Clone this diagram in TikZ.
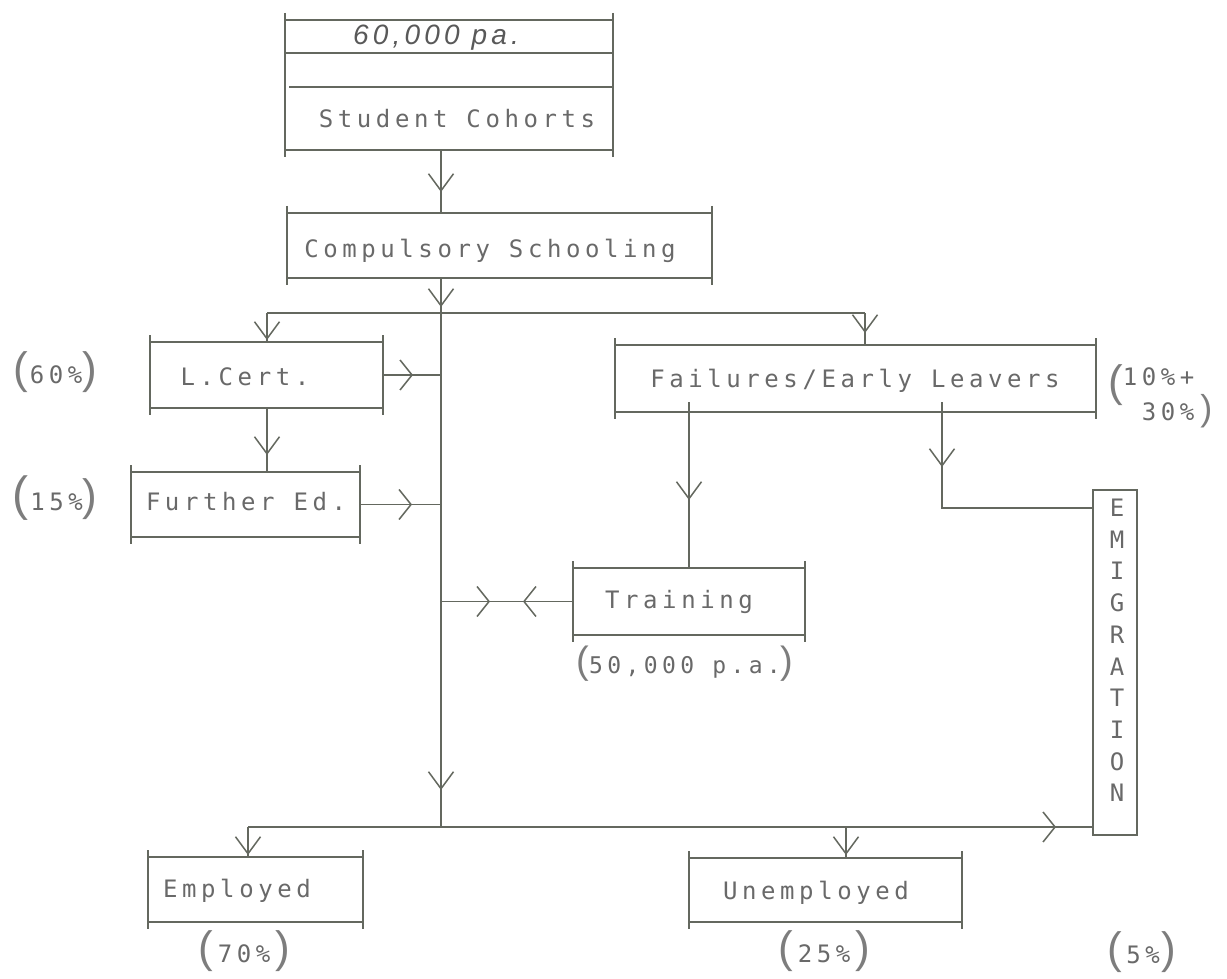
\documentclass[tikz,border=0pt]{standalone}
\usepackage{fontspec}
\usetikzlibrary{arrows.meta,decorations.markings}
\newfontfamily\tw{DejaVu Sans Mono}[LetterSpace=19]
\newfontfamily\pf{Liberation Sans}
\newfontfamily\hand{Liberation Sans}[LetterSpace=15]
\definecolor{ink}{RGB}{100,104,95}
\definecolor{txt}{RGB}{105,105,105}
\definecolor{paren}{RGB}{125,125,125}
\newcommand\PP[2][44]{{\pf\color{paren}\fontsize{#1}{#1}\selectfont #2}}
\newcommand\boxsides[1]{\draw[line width=1.6pt] ([yshift=7pt]#1.north west) -- ([yshift=-7pt]#1.south west) ([yshift=7pt]#1.north east) -- ([yshift=-7pt]#1.south east);}
\begin{document}
\begin{tikzpicture}[x=1pt,y=-1pt,color=ink,
  Vt/.tip={Straight Barb[length=17pt,width=25pt]},
  Ht/.tip={Straight Barb[length=12pt,width=30pt]},
  tbox/.style={draw=ink, line width=1.8pt, inner sep=0pt, outer sep=0pt, rectangle},
  lbl/.style={font=\tw\fontsize{24}{24}\selectfont, text=txt, inner sep=0pt, text height=17.5pt, text depth=0pt},
  pct/.style={font=\tw\fontsize{24}{32}\selectfont, text=txt, inner sep=0pt},
  conn/.style={draw=ink, line width=1.5pt},
  vm/.style={postaction={decorate, decoration={markings, mark=at position #1pt with {\arrow{Vt}}}}},
  hm/.style={postaction={decorate, decoration={markings, mark=at position #1pt with {\arrow{Ht}}}}},
  hmr/.style={postaction={decorate, decoration={markings, mark=at position #1pt with {\arrowreversed{Ht}}}}},
]
\fill[white] (0,0) rectangle (1227,979);
\useasboundingbox (0,0) rectangle (1227,979);

% boxes
\node[tbox, minimum width=328pt, minimum height=130pt] (cohort) at (449,85) {};
\draw[line width=1.8pt] (285,53) -- (613,53) (289,87) -- (613,87);
\boxsides{cohort}
\node[font=\hand\itshape\fontsize{28}{28}\selectfont, text=txt!85!black, inner sep=0pt, text height=20pt, text depth=0pt] (cohortn) at (436,35) {60,000 pa.};
\node[lbl] (cohortt) at (457,119) {Student Cohorts};

\node[tbox, minimum width=425pt, minimum height=65pt] (school) at (499.5,245.5) {};
\boxsides{school}
\node[lbl] (schoolt) at (490,249) {Compulsory Schooling};

\node[tbox, minimum width=233pt, minimum height=66pt] (lcert) at (266.5,375) {};
\boxsides{lcert}
\node[lbl] (lcertt) at (245,377) {L.Cert.};

\node[tbox, minimum width=229pt, minimum height=65pt] (further) at (245.5,504.5) {};
\boxsides{further}
\node[lbl] (furthert) at (246,502) {Further Ed.};

\node[tbox, minimum width=481pt, minimum height=67pt] (fail) at (855.5,378.5) {};
\boxsides{fail}
\node[lbl] (failt) at (855,379) {Failures/Early Leavers};

\node[tbox, minimum width=232pt, minimum height=67pt] (train) at (689,601.5) {};
\boxsides{train}
\node[lbl] (traint) at (679,600) {Training};

\node[tbox, minimum width=44pt, minimum height=345pt] (emig) at (1115,662.5) {};
\node[font=\tw\fontsize{24}{31.7}\selectfont, text=txt, inner sep=0pt, align=center, text depth=0pt, anchor=south] (emigt) at (1117,802) {E\\M\\I\\G\\R\\A\\T\\I\\O\\N};

\node[tbox, minimum width=215pt, minimum height=65pt] (emp) at (255.5,889.5) {};
\boxsides{emp}
\node[lbl] (empt) at (237,889) {Employed};

\node[tbox, minimum width=273pt, minimum height=64pt] (unemp) at (825.5,890) {};
\boxsides{unemp}
\node[lbl] (unempt) at (816,891) {Unemployed};

% junctions
\coordinate (spl) at (441,313);
\coordinate (splL) at (267,313);
\coordinate (splR) at (865,313);
\coordinate (bot) at (441,827);
\coordinate (botL) at (248,827);
\coordinate (botU) at (846,827);
\coordinate (emj) at (942,508);

% connectors
\draw[conn, vm=42] (cohort.south -| spl) -- (school.north -| spl);
\draw[conn, postaction={decorate, decoration={markings,
   mark=at position 29pt with {\arrow{Vt}},
   mark=at position 512pt with {\arrow{Vt}}}}] (school.south -| spl) -- (bot);
\draw[conn] (splL) -- (splR);
\draw[conn, vm=27] (splL) -- (lcert.north -| splL);
\draw[conn, vm=20] (splR) -- (fail.north -| splR);
\draw[conn, hm=30] (lcert.east) -- (lcert.east -| spl);
\draw[conn, vm=47] (lcert.south -| splL) -- (further.north -| splL);
\draw[conn, hm=52] (further.east) -- (further.east -| spl);
\draw[conn, vm=98] ([yshift=10pt]fail.south -| train.north) -- (train.north);
\draw[conn, vm=65] ([yshift=10pt]fail.south -| emj) -- (emj) -- (emig.west |- emj);
\draw[conn, hm=50, hmr=83] (train.west) -- (train.west -| spl);
\draw[conn, hm=808] (botL) -- (emig.west |- botL);
\draw[conn, vm=28] (botL) -- (emp.north -| botL);
\draw[conn, vm=28] (botU) -- (unemp.north -| botU);

% percentages
\node[pct, anchor=base] (p60) at (55,383) {\PP{(}\kern2pt 60\%\PP{)}};
\node[pct, anchor=base] (p15) at (55,510) {\PP[48]{(}\kern2pt 15\%\PP{)}};
\node[pct, anchor=base] (p70) at (244,962) {\PP{(}\kern5pt 70\%\kern5pt\PP{)}};
\node[pct, anchor=base] (p25) at (824,962) {\PP{(}\kern5pt 25\%\kern5pt\PP{)}};
\node[pct, anchor=base] (p5) at (1142,963) {\PP{(}\kern4pt 5\%\kern2pt\PP{)}};
\node[pct, anchor=base, font=\tw\fontsize{23}{23}\selectfont] (p50) at (685,673) {\PP[38]{(}50,000 p.a.\PP[38]{)}};
\node[pct, anchor=base west] (pfail) at (1108,385) {\raisebox{-11pt}{\PP{(}}\begin{tabular}[t]{@{}l@{}}10\%+\\\ 30\%\kern6pt\PP[36]{)}\end{tabular}};
\end{tikzpicture}
\end{document}
